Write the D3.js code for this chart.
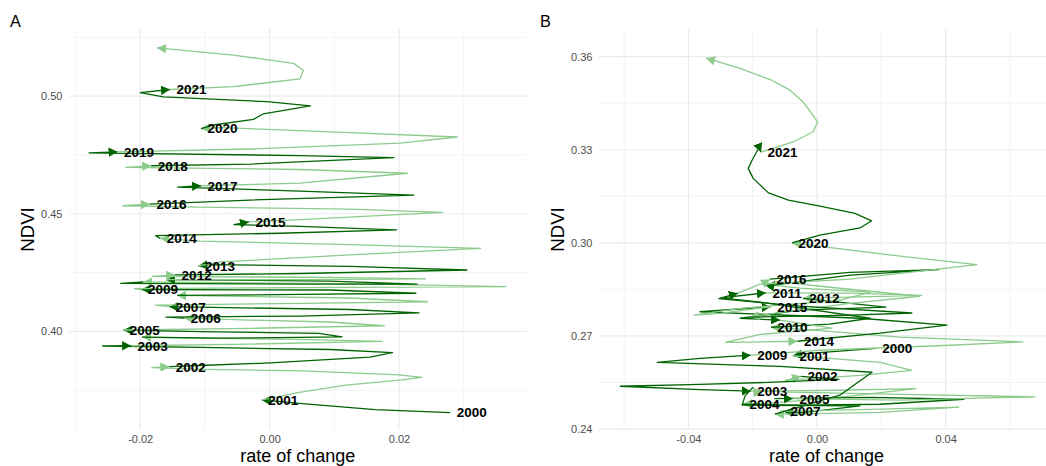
<!DOCTYPE html>
<html>
<head>
<meta charset="utf-8">
<script src="https://cdn.jsdelivr.net/npm/d3@7"></script>
<style>
  body { margin: 0; background: #fff; }
  svg { display: block; }
  text { font-family: "Liberation Sans", Arial, sans-serif; }
</style>
</head>
<body>
<svg id="chart" width="1046" height="466"></svg>
<script>
// years: each path segment starts at its year label point
var years = [2000, 2001, 2002, 2003, 2004, 2005, 2006, 2007, 2008, 2009, 2010,
             2011, 2012, 2013, 2014, 2015, 2016, 2017, 2018, 2019, 2020, 2021];

// panel A - rate of change (x) per year segment
var rateA = [
  [0.0279, 0.0163, 0.0046],
  [-0.0012, 0.0046, 0.0118, 0.0205, 0.0235, 0.0200, 0.0050, -0.0104, -0.0182],
  [-0.0155, -0.0107, 0.0001, 0.0155, 0.0190, 0.0093, -0.0107, -0.0258],
  [-0.0214, -0.0030, 0.0174, 0.0047, -0.0154],
  [-0.0197, -0.0076, 0.0112, 0.0076, -0.0107],
  [-0.0226, -0.0030, 0.0177, 0.0093, -0.0030],
  [-0.0132, -0.0160, 0.0047, 0.0231, 0.0124],
  [-0.0155, -0.0176, 0.0047, 0.0244, 0.0124],
  [-0.0143, 0.0047, 0.0226, 0.0093],
  [-0.0198, -0.0209, 0.0047, 0.0365, 0.0124],
  [-0.0195, -0.0230, 0.0047, 0.0228, 0.0093],
  [-0.0160, 0.0047, 0.0241, 0.0093, -0.0181],
  [-0.0146, 0.0047, 0.0305, 0.0124, -0.0092],
  [-0.0110, -0.0076, 0.0124, 0.0326, 0.0124, -0.0107],
  [-0.0169, -0.0176, 0.0016, 0.0196, 0.0047, -0.0055],
  [-0.0032, 0.0047, 0.0267, 0.0124, -0.0107, -0.0227],
  [-0.0185, -0.0030, 0.0223, 0.0047, -0.0142],
  [-0.0106, 0.0047, 0.0213, 0.0047, -0.0222],
  [-0.0183, -0.0030, 0.0192, 0.0047, -0.0279],
  [-0.0235, -0.0030, 0.0202, 0.0290, 0.0124, -0.0076],
  [-0.0106, -0.0087, -0.0025, -0.0010, 0.0063, -0.0004, -0.0164, -0.0200],
  [-0.0154, -0.0056, 0.0047, 0.0052, 0.0037, -0.0056]
];
// panel A - NDVI (y) per year segment
var ndviA = [
  [0.3655, 0.3668, 0.3694],
  [0.3709, 0.3741, 0.3772, 0.3794, 0.3805, 0.3815, 0.3832, 0.3839, 0.3846],
  [0.3850, 0.3855, 0.3866, 0.3891, 0.3910, 0.3923, 0.3932, 0.3938],
  [0.3939, 0.3946, 0.3958, 0.3966, 0.3973],
  [0.3976, 0.3971, 0.3977, 0.3992, 0.3999],
  [0.4006, 0.4013, 0.4024, 0.4040, 0.4048],
  [0.4056, 0.4061, 0.4065, 0.4079, 0.4093],
  [0.4105, 0.4112, 0.4119, 0.4126, 0.4142],
  [0.4153, 0.4157, 0.4162, 0.4176],
  [0.4178, 0.4182, 0.4186, 0.4190, 0.4203],
  [0.4210, 0.4204, 0.4201, 0.4201, 0.4214],
  [0.4220, 0.4220, 0.4223, 0.4229, 0.4234],
  [0.4240, 0.4246, 0.4261, 0.4276, 0.4284],
  [0.4278, 0.4295, 0.4325, 0.4353, 0.4369, 0.4384],
  [0.4395, 0.4407, 0.4417, 0.4431, 0.4446, 0.4454],
  [0.4465, 0.4475, 0.4506, 0.4520, 0.4528, 0.4534],
  [0.4541, 0.4558, 0.4579, 0.4596, 0.4613],
  [0.4619, 0.4630, 0.4672, 0.4688, 0.4697],
  [0.4704, 0.4711, 0.4738, 0.4747, 0.4759],
  [0.4763, 0.4775, 0.4800, 0.4826, 0.4845, 0.4866],
  [0.4862, 0.4877, 0.4901, 0.4924, 0.4958, 0.4976, 0.4997, 0.5015],
  [0.5028, 0.5040, 0.5073, 0.5110, 0.5139, 0.5174]
];
var endA = [-0.0174, 0.5205];
var labelsA = [2000, 2001, 2002, 2003, 2005, 2006, 2007, 2009, 2012, 2013,
               2014, 2015, 2016, 2017, 2018, 2019, 2020, 2021];

// panel B
var rateB = [
  [0.0183, 0.0071, -0.0037],
  [-0.0075, 0.0040, 0.0196, 0.0295, 0.0134, -0.0099],
  [-0.0050, 0.0068, -0.0131, -0.0364, -0.0612, -0.0364],
  [-0.0206, 0.0071, 0.0308, 0.0103, -0.0115],
  [-0.0230, -0.0053, 0.0196, 0.0457, 0.0165, -0.0131],
  [-0.0075, 0.0258, 0.0678, 0.0258, -0.0084, -0.0193],
  [-0.0199, -0.0224, -0.0233, 0.0134, -0.0053],
  [-0.0103, 0.0196, 0.0441, 0.0196, -0.0084],
  [-0.0131, 0.0071, 0.0171, -0.0115, -0.0497, -0.0364],
  [-0.0206, 0.0009, 0.0413, 0.0640, 0.0258, 0.0040, -0.0099],
  [-0.0143, 0.0040, 0.0165, -0.0177, -0.0298],
  [-0.0159, 0.0103, 0.0326, 0.0103],
  [-0.0044, 0.0214, -0.0053, -0.0239],
  [-0.0115, 0.0047, -0.0177, -0.0284],
  [-0.0061, 0.0196, 0.0404, 0.0134, -0.0364],
  [-0.0144, -0.0301, -0.0382, -0.0239, 0.0071, 0.0165, -0.0053, -0.0171],
  [-0.0146, 0.0103, 0.0379, 0.0103, -0.0140],
  [-0.0131, 0.0040, 0.0320, 0.0103, -0.0115],
  [-0.0208, 0.0103, 0.0295, -0.0053, -0.0305],
  [-0.0246, -0.0177, 0.0103, 0.0497, 0.0258],
  [-0.0078, 0.0009, 0.0134, 0.0170, 0.0118, 0.0009, -0.0089, -0.0151, -0.0198, -0.0214, -0.0202, -0.0180],
  [-0.0174, -0.0156, -0.0074, -0.0012, 0.0002, -0.0043, -0.0084, -0.0141, -0.0239]
];
var ndviB = [
  [0.2660, 0.2651, 0.2643],
  [0.2636, 0.2628, 0.2615, 0.2589, 0.2573, 0.2557],
  [0.2570, 0.2560, 0.2551, 0.2544, 0.2538, 0.2527],
  [0.2522, 0.2525, 0.2530, 0.2506, 0.2486],
  [0.2480, 0.2477, 0.2480, 0.2496, 0.2502, 0.2498],
  [0.2498, 0.2493, 0.2504, 0.2512, 0.2519, 0.2525],
  [0.2535, 0.2506, 0.2477, 0.2475, 0.2452],
  [0.2457, 0.2464, 0.2471, 0.2454, 0.2448],
  [0.2448, 0.2509, 0.2583, 0.2602, 0.2615, 0.2628],
  [0.2638, 0.2654, 0.2670, 0.2681, 0.2696, 0.2715, 0.2725],
  [0.2728, 0.2738, 0.2757, 0.2809, 0.2823],
  [0.2839, 0.2838, 0.2831, 0.2825],
  [0.2821, 0.2793, 0.2783, 0.2757],
  [0.2751, 0.2725, 0.2705, 0.2679],
  [0.2683, 0.2709, 0.2735, 0.2757, 0.2778],
  [0.2794, 0.2773, 0.2767, 0.2789, 0.2815, 0.2841, 0.2854, 0.2867],
  [0.2883, 0.2905, 0.2914, 0.2896, 0.2863],
  [0.2876, 0.2857, 0.2828, 0.2805, 0.2776],
  [0.2761, 0.2767, 0.2774, 0.2796, 0.2820],
  [0.2838, 0.2867, 0.2883, 0.2930, 0.2957],
  [0.3000, 0.3025, 0.3048, 0.3071, 0.3095, 0.3118, 0.3138, 0.3161, 0.3207, 0.3240, 0.3266, 0.3308],
  [0.3292, 0.3299, 0.3325, 0.3358, 0.3390, 0.3454, 0.3492, 0.3524, 0.3562]
];
var endB = [-0.0345, 0.3595];
var labelsB = [2000, 2001, 2002, 2003, 2004, 2005, 2007, 2009, 2010, 2011,
               2012, 2014, 2015, 2016, 2020, 2021];

// grid / tick values
var xMajorA = [-0.02, 0, 0.02], xMinorA = [-0.03, -0.01, 0.01, 0.03];
var yMajorA = [0.40, 0.45, 0.50], yMinorA = [0.375, 0.425, 0.475, 0.525];
var xMajorB = [-0.04, 0, 0.04], xMinorB = [-0.06, -0.02, 0.02, 0.06];
var yMajorB = [0.24, 0.27, 0.30, 0.33, 0.36], yMinorB = [0.255, 0.285, 0.315, 0.345];

var cols = { dark: '#006400', light: '#8ccb8c' };

var svg = d3.select('#chart');
svg.append('rect').attr('width', 1046).attr('height', 466).attr('fill', '#fff');

// arrow heads, one per colour
var defs = svg.append('defs');
['dark', 'light'].forEach(function (k) {
  defs.append('marker')
    .attr('id', 'arr-' + k)
    .attr('viewBox', '0 0 10 10')
    .attr('preserveAspectRatio', 'none')
    .attr('refX', 10).attr('refY', 5)
    .attr('markerUnits', 'userSpaceOnUse')
    .attr('markerWidth', 9).attr('markerHeight', 9.5)
    .attr('orient', 'auto')
    .append('path').attr('d', 'M0,0L10,5L0,10Z').attr('fill', cols[k]);
});

function fmt(d) { return d.toFixed(2); }

function drawPanel(p) {
  var x = d3.scaleLinear().domain(p.xDomain).range([p.left, p.right]);
  var y = d3.scaleLinear().domain(p.yDomain).range([p.bottom, p.top]);
  var g = svg.append('g');

  // grid lines (minor first, then major)
  var grid = g.append('g');
  grid.selectAll('.vmin').data(p.xMinor).enter().append('line')
    .attr('x1', x).attr('x2', x).attr('y1', p.top).attr('y2', p.bottom)
    .attr('stroke', '#ebebeb').attr('stroke-width', 0.6);
  grid.selectAll('.hmin').data(p.yMinor).enter().append('line')
    .attr('y1', y).attr('y2', y).attr('x1', p.left).attr('x2', p.right)
    .attr('stroke', '#ebebeb').attr('stroke-width', 0.6);
  grid.selectAll('.vmaj').data(p.xMajor).enter().append('line')
    .attr('x1', x).attr('x2', x).attr('y1', p.top).attr('y2', p.bottom)
    .attr('stroke', '#ebebeb').attr('stroke-width', 1.2);
  grid.selectAll('.hmaj').data(p.yMajor).enter().append('line')
    .attr('y1', y).attr('y2', y).attr('x1', p.left).attr('x2', p.right)
    .attr('stroke', '#ebebeb').attr('stroke-width', 1.2);

  // tick labels
  var ax = g.append('g').attr('transform', 'translate(0,' + p.bottom + ')')
    .call(d3.axisBottom(x).tickValues(p.xMajor).tickFormat(fmt).tickSize(0).tickPadding(5.5));
  var ay = g.append('g').attr('transform', 'translate(' + p.left + ',0)')
    .call(d3.axisLeft(y).tickValues(p.yMajor).tickFormat(fmt).tickSize(0).tickPadding(6.5));
  [ax, ay].forEach(function (a) {
    a.select('.domain').remove();
    a.selectAll('text').attr('fill', '#4d4d4d').style('font-size', '11px')
      .style('font-family', '"Liberation Sans", Arial, sans-serif');
  });

  // segments: each year runs from its own point to the first point of the next year
  var segs = years.map(function (yr, i) {
    var pts = p.rate[i].map(function (r, j) { return [r, p.ndvi[i][j]]; });
    pts.push(i < years.length - 1 ? [p.rate[i + 1][0], p.ndvi[i + 1][0]] : p.end);
    return { year: yr, pts: pts, kind: yr % 2 === 0 ? 'dark' : 'light' };
  });

  var line = d3.line().x(function (d) { return x(d[0]); }).y(function (d) { return y(d[1]); });

  g.append('g').selectAll('path').data(segs).enter().append('path')
    .attr('d', function (d) { return line(d.pts); })
    .attr('fill', 'none')
    .attr('stroke', function (d) { return cols[d.kind]; })
    .attr('stroke-width', 1.3)
    .attr('stroke-linejoin', 'round')
    .attr('marker-end', function (d) { return 'url(#arr-' + d.kind + ')'; });

  // year labels
  g.append('g').selectAll('text')
    .data(segs.filter(function (s) { return p.labels.indexOf(s.year) >= 0; }))
    .enter().append('text')
    .attr('x', function (d) { return x(d.pts[0][0]) + 6.5; })
    .attr('y', function (d) { return y(d.pts[0][1]); })
    .attr('dy', '0.36em')
    .attr('font-size', 13.5).attr('font-weight', 'bold').attr('fill', '#000')
    .text(function (d) { return d.year; });

  // axis titles
  g.append('text')
    .attr('x', (p.left + p.right) / 2).attr('y', 462)
    .attr('text-anchor', 'middle').attr('font-size', 18).attr('fill', '#000')
    .text('rate of change');
  g.append('text')
    .attr('transform', 'translate(' + p.yTitleX + ',' + (p.top + p.bottom) / 2 + ') rotate(-90)')
    .attr('text-anchor', 'middle').attr('font-size', 18.67).attr('fill', '#000')
    .text('NDVI');

  // panel tag
  g.append('text').attr('x', p.tagX).attr('y', 26.7)
    .attr('font-size', 16.3).attr('fill', '#000').text(p.tag);
}

drawPanel({
  tag: 'A', tagX: 10, yTitleX: 33.5,
  left: 69, right: 526.5, top: 29, bottom: 430,
  xDomain: [-0.0310, 0.0397], yDomain: [0.3581, 0.5285],
  xMajor: xMajorA, xMinor: xMinorA, yMajor: yMajorA, yMinor: yMinorA,
  rate: rateA, ndvi: ndviA, end: endA, labels: labelsA
});

drawPanel({
  tag: 'B', tagX: 540, yTitleX: 563.5,
  left: 599, right: 1054, top: 29, bottom: 430,
  xDomain: [-0.0678, 0.0737], yDomain: [0.2397, 0.3689],
  xMajor: xMajorB, xMinor: xMinorB, yMajor: yMajorB, yMinor: yMinorB,
  rate: rateB, ndvi: ndviB, end: endB, labels: labelsB
});
</script>
</body>
</html>
